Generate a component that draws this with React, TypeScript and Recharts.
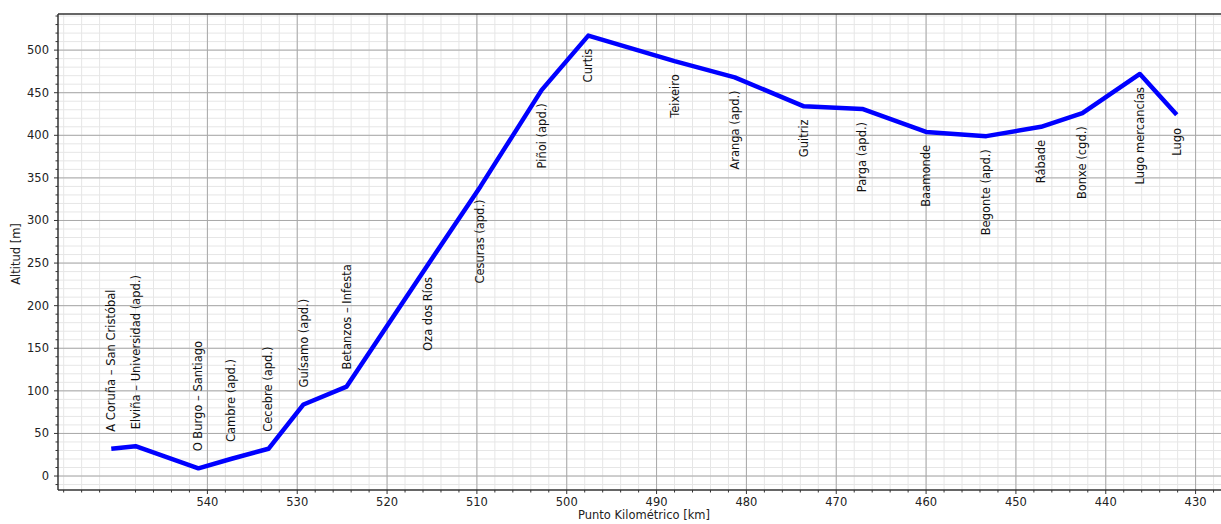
import {
  LineChart,
  Line,
  XAxis,
  YAxis,
  CartesianGrid,
  ReferenceLine,
  LabelList,
} from "recharts";

// stations along the line, A Coruña -> Lugo
const stationNames = [
  "A Coruña – San Cristóbal",
  "Elviña – Universidad (apd.)",
  "O Burgo – Santiago",
  "Cambre (apd.)",
  "Cecebre (apd.)",
  "Guísamo (apd.)",
  "Betanzos – Infesta",
  "Oza dos Ríos",
  "Cesuras (apd.)",
  "Piñoi (apd.)",
  "Curtis",
  "Teixeiro",
  "Aranga (apd.)",
  "Guitriz",
  "Parga (apd.)",
  "Baamonde",
  "Begonte (apd.)",
  "Rábade",
  "Bonxe (cgd.)",
  "Lugo mercancías",
  "Lugo",
];
const stationKm = [
  550.7, 548.0, 541.0, 537.4, 533.2, 529.3, 524.5, 515.4, 509.6, 502.8, 497.6,
  488.0, 481.3, 473.6, 467.1, 460.0, 453.3, 447.2, 442.6, 436.2, 432.1,
];
const stationAlt = [
  32, 35, 9, 20, 32, 84, 105, 249, 340, 453, 517, 487, 468, 434, 431, 404, 399,
  410, 426, 472, 424,
];

const xMajorTicks = [540, 530, 520, 510, 500, 490, 480, 470, 460, 450, 440, 430];
const yMajorTicks = [0, 50, 100, 150, 200, 250, 300, 350, 400, 450, 500];

const data = stationNames.map((name, i) => ({
  name,
  km: stationKm[i],
  alt: stationAlt[i],
}));

// 5% margin around the data, like the original plot
const pad = (lo: number, hi: number): [number, number] => {
  const d = (hi - lo) * 0.05;
  return [lo - d, hi + d];
};
const xDomain = pad(Math.min(...stationKm), Math.max(...stationKm));
const yDomain = pad(Math.min(...stationAlt), Math.max(...stationAlt));

const range = (from: number, to: number, step: number) => {
  const out: number[] = [];
  for (let v = from; v <= to; v += step) out.push(v);
  return out;
};
const xMinor = range(428, 556, 2).filter((v) => v !== 550);
const yMinor = range(-10, 540, 10);

const FONT = "DejaVu Sans, sans-serif";

const XTick = (props: any) => {
  const { x, y, payload } = props;
  const major = xMajorTicks.includes(payload.value);
  return (
    <g>
      <line x1={x} x2={x} y1={y} y2={y + (major ? 4 : 2.5)} stroke="#333" />
      {major && (
        <text
          x={x}
          y={y + 12}
          textAnchor="middle"
          dominantBaseline="central"
          fontSize={11.5}
          fontFamily={FONT}
          fill="#222"
        >
          {payload.value}
        </text>
      )}
    </g>
  );
};

const YTick = (props: any) => {
  const { x, y, payload } = props;
  const major = yMajorTicks.includes(payload.value);
  return (
    <g>
      <line x1={x} x2={x - (major ? 4 : 2.5)} y1={y} y2={y} stroke="#333" />
      {major && (
        <text
          x={x - 9}
          y={y}
          textAnchor="end"
          dominantBaseline="central"
          fontSize={11.5}
          fontFamily={FONT}
          fill="#222"
        >
          {payload.value}
        </text>
      )}
    </g>
  );
};

const StationLabel = (props: any) => {
  const x = props.viewBox?.x ?? props.x;
  const y = props.viewBox?.y ?? props.y;
  const i = stationNames.indexOf(props.value);
  const above = stationAlt[i] < 200;
  const ay = above ? y - 17 : y + 13;
  return (
    <text
      x={x}
      y={ay}
      transform={`rotate(-90 ${x} ${ay})`}
      textAnchor={above ? "start" : "end"}
      dominantBaseline="central"
      fontSize={11.5}
      fontFamily={FONT}
      fill="#111"
    >
      {props.value}
    </text>
  );
};

const App = () => {
  return (
    <div
      style={{
        position: "absolute",
        left: 0,
        top: 0,
        width: 1221,
        height: 524,
        overflow: "hidden",
        background: "#fff",
        fontFamily: FONT,
      }}
    >
      <LineChart
        width={1240}
        height={524}
        data={data}
        margin={{ top: 14, right: 10, left: 0, bottom: 0 }}
      >
        <CartesianGrid
          stroke="#e6e6e6"
          strokeWidth={1}
          verticalValues={xMinor}
          horizontalValues={yMinor}
        />
        <CartesianGrid
          stroke="#a8a8a8"
          strokeWidth={1}
          verticalValues={xMajorTicks}
          horizontalValues={yMajorTicks}
        />
        <XAxis
          type="number"
          dataKey="km"
          domain={xDomain}
          reversed
          allowDataOverflow
          ticks={xMinor}
          interval={0}
          tick={<XTick />}
          tickLine={false}
          tickSize={0}
          tickMargin={0}
          axisLine={{ stroke: "#333", strokeWidth: 1.5 }}
          height={34}
        />
        <YAxis
          type="number"
          domain={yDomain}
          allowDataOverflow
          ticks={yMinor}
          interval={0}
          tick={<YTick />}
          tickLine={false}
          tickSize={0}
          tickMargin={0}
          axisLine={{ stroke: "#333", strokeWidth: 1.5 }}
          width={58}
        />
        <ReferenceLine y={yDomain[1]} stroke="#333" strokeWidth={1.5} ifOverflow="visible" />
        <Line
          type="linear"
          dataKey="alt"
          stroke="#0000ff"
          strokeWidth={4.5}
          strokeLinejoin="round"
          dot={false}
          activeDot={false}
          isAnimationActive={false}
        >
          <LabelList dataKey="name" content={<StationLabel />} />
        </Line>
      </LineChart>
      <div
        style={{
          position: "absolute",
          left: 16,
          top: 254,
          transform: "translate(-50%, -50%) rotate(-90deg)",
          fontSize: 11.5,
          color: "#222",
          whiteSpace: "nowrap",
        }}
      >
        Altitud [m]
      </div>
      <div
        style={{
          position: "absolute",
          left: 644,
          top: 515,
          transform: "translate(-50%, -50%)",
          fontSize: 11.5,
          lineHeight: "13px",
          color: "#222",
          whiteSpace: "nowrap",
        }}
      >
        Punto Kilométrico [km]
      </div>
    </div>
  );
};

export default App;
